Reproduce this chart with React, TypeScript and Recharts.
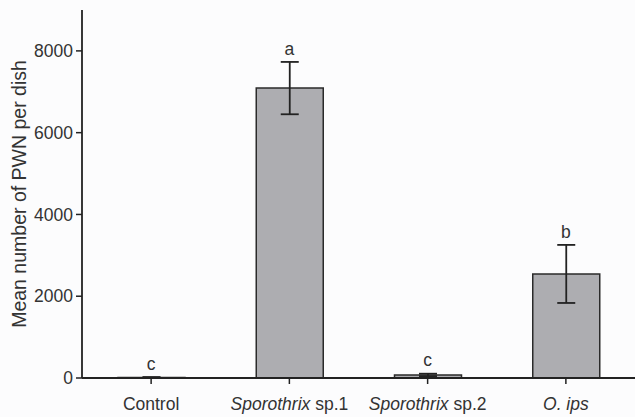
import React from "react";
import {
  ComposedChart,
  Bar,
  Line,
  XAxis,
  YAxis,
  ErrorBar,
  LabelList,
} from "recharts";

const categories = ["Control", "Sporothrix sp.1", "Sporothrix sp.2", "O. ips"];
const means = [15, 7090, 75, 2545];
const errors = [8, 640, 30, 710];
const letters = ["c", "a", "c", "b"];
const yTicks = [0, 2000, 4000, 6000, 8000];

const data = categories.map((name, i) => ({
  name,
  mean: means[i],
  err: errors[i],
  letter: letters[i],
}));

const FONT = "'Liberation Sans', Arial, Helvetica, sans-serif";
const TEXT = "#333";
const AXIS = "#222";

const CategoryTick = (props: any) => {
  const { x, y, payload } = props;
  const label: string = payload.value;
  const parts = label.startsWith("Sporothrix")
    ? ["Sporothrix", label.slice("Sporothrix".length)]
    : label === "O. ips"
      ? ["O. ips", ""]
      : ["", label];
  return (
    <text
      x={x}
      y={y}
      dy="0.71em"
      textAnchor="middle"
      fill={TEXT}
      fontSize={17.5}
      fontFamily={FONT}
    >
      {parts[0] && <tspan fontStyle="italic">{parts[0]}</tspan>}
      {parts[1] && <tspan>{parts[1]}</tspan>}
    </text>
  );
};

const LetterLabel = (props: any) => {
  const { x, y, value } = props;
  return (
    <text
      x={x}
      y={y - 12}
      textAnchor="middle"
      dominantBaseline="middle"
      fill={TEXT}
      fontSize={17.5}
      fontFamily={FONT}
    >
      {value}
    </text>
  );
};

export default function App() {
  return (
    <div style={{ position: "absolute", left: 0, top: 0, background: "#fcfcfd" }}>
      <ComposedChart
        width={635}
        height={417}
        data={data}
        margin={{ top: 10, right: 0, left: 0, bottom: 0 }}
      >
        <XAxis
          dataKey="name"
          height={39}
          tick={<CategoryTick />}
          tickSize={6}
          tickMargin={14}
          interval={0}
          axisLine={{ stroke: AXIS, strokeWidth: 1.8 }}
          tickLine={{ stroke: AXIS, strokeWidth: 1.5 }}
        />
        <YAxis
          width={82}
          domain={[0, 9000]}
          ticks={yTicks}
          tickSize={6}
          tickMargin={3}
          axisLine={{ stroke: AXIS, strokeWidth: 1.8 }}
          tickLine={{ stroke: AXIS, strokeWidth: 1.5 }}
          tick={{ fill: TEXT, fontSize: 17.5, fontFamily: FONT }}
          label={{
            value: "Mean number of PWN per dish",
            angle: -90,
            position: "insideLeft",
            offset: 19,
            style: { textAnchor: "middle", fill: TEXT, fontSize: 19.5, fontFamily: FONT },
          }}
        />
        <Bar
          dataKey="mean"
          barSize={67}
          fill="#adadb1"
          stroke="#2a2a2a"
          strokeWidth={1.5}
          isAnimationActive={false}
        >
          <ErrorBar dataKey="err" width={9} stroke={AXIS} strokeWidth={1.8} />
        </Bar>
        <Line
          dataKey={(d: any) => d.mean + d.err}
          stroke="none"
          dot={false}
          activeDot={false}
          isAnimationActive={false}
        >
          <LabelList dataKey="letter" content={<LetterLabel />} />
        </Line>
      </ComposedChart>
    </div>
  );
}
